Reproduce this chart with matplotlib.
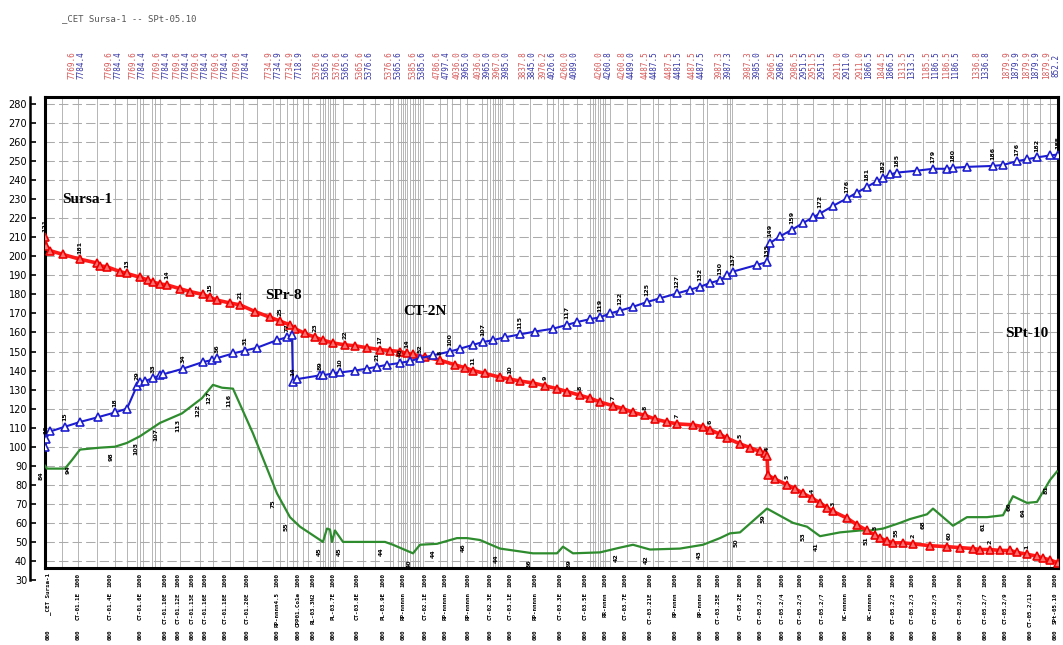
import matplotlib
matplotlib.use("Agg")
import matplotlib.pyplot as plt

# profile: distance along line [km] and values per curve
red_km = [0.0, 0.1, 0.5, 1.8, 3.5, 5.2, 5.5, 6.2, 7.5, 8.2, 9.5, 10.3, 10.8, 11.5, 12.2,
          13.5, 14.5, 15.8, 16.5, 17.2, 18.5, 19.5, 21.0, 22.5, 23.5, 24.5, 25.0, 26.0,
          27.0, 27.8, 28.8, 30.0, 31.0, 32.2, 33.5, 34.5, 35.5, 36.2, 36.8, 38.0, 39.5,
          41.0, 42.0, 42.8, 44.0, 45.5, 46.5, 47.5, 48.8, 50.0, 51.2, 52.2, 53.5, 54.5,
          55.5, 56.8, 57.8, 58.8, 60.0, 61.0, 62.2, 63.2, 64.8, 65.8, 66.5, 67.5, 68.2,
          69.5, 70.5, 71.5, 72.0, 72.2, 72.3, 73.0, 74.2, 75.0, 75.8, 76.7, 77.5, 78.2,
          78.8, 80.2, 81.2, 82.2, 83.0, 83.5, 84.2, 84.8, 85.8, 86.8, 88.5, 90.2, 91.5,
          92.8, 93.5, 94.5, 95.5, 96.5, 97.2, 98.2, 99.2, 99.8, 100.5, 101.3]
red_val = [210, 205.5, 203, 201, 198.5, 196.5, 195, 194.5, 192, 191, 189, 187.5, 186.5,
           185.5, 185, 183, 181.5, 180, 178.5, 177, 175.5, 174.5, 171, 168, 166, 164, 162,
           159.5, 157.5, 156, 154.5, 153.5, 153, 152, 151, 150.5, 150, 149, 148.5, 147,
           145.5, 143, 141.5, 140, 138.5, 136.5, 135.5, 134.5, 133.5, 132, 130.5, 129, 127,
           125.5, 123.5, 121.5, 120, 118, 116.5, 114.5, 113, 112, 111.5, 110.5, 109, 106.5,
           104.5, 101.5, 99.5, 97.5, 96.5, 95, 85, 83, 80, 78, 75.5, 73, 70.5, 68, 66,
           62.5, 59, 56, 53.5, 52, 50.5, 49.5, 49.5, 49, 48, 47.5, 47, 46.5, 46, 46, 45.5,
           45.5, 44.5, 43.5, 42.5, 41.5, 40.5, 39]

blue_km = [0.0, 0.1, 0.5, 2.0, 3.5, 5.3, 7.0, 8.2, 9.2, 9.5, 10.0, 10.8, 11.5, 11.8, 13.8,
           15.8, 16.7, 17.2, 18.8, 20.0, 21.2, 23.2, 24.2, 24.7, 24.8, 25.2, 27.5, 27.8,
           28.8, 29.5, 31.0, 32.2, 33.2, 34.2, 35.5, 36.5, 37.5, 38.8, 40.5, 41.5, 42.8,
           43.8, 44.8, 46.0, 47.5, 49.0, 50.8, 52.2, 53.2, 54.5, 55.5, 56.5, 57.5, 58.8,
           60.2, 61.5, 63.2, 64.5, 65.5, 66.5, 67.5, 68.2, 68.8, 71.2, 72.2, 72.5, 73.5,
           74.7, 75.8, 76.8, 77.5, 78.8, 80.2, 81.2, 82.2, 83.2, 83.8, 84.5, 85.2, 87.2,
           88.8, 90.2, 90.8, 92.2, 94.8, 95.8, 97.2, 98.2, 99.2, 100.5, 101.3]
blue_val = [100, 104, 108, 110.5, 113, 115.5, 118, 120, 132, 134, 134.5, 136, 137.5, 138,
            141, 144.5, 145.5, 146.5, 149, 150.5, 152, 156, 157.5, 158.5, 134, 135.5, 137.5,
            137.5, 138.5, 139, 140, 141, 142, 143, 144, 145, 146.5, 148, 150, 151.5, 153.5,
            155, 156, 157.5, 159, 160.5, 162, 164, 165.5, 167, 168, 170, 171.5, 173.5, 176,
            178, 180.5, 182.5, 184, 186, 187.5, 190, 192, 195.5, 197, 207, 210.5, 214, 217.5,
            220.5, 222.5, 226.5, 230.5, 233.5, 236.5, 239.5, 241, 243, 244, 245, 246, 246,
            246.5, 247, 247.5, 248, 250, 251, 252, 253, 253.5]

green_km = [0.0, 0.2, 2.0, 2.7, 3.5, 5.5, 7.0, 8.2, 9.5, 11.5, 13.7, 15.7, 16.8, 17.7, 18.8,
            20.8, 23.2, 24.5, 25.5, 27.8, 28.2, 28.5, 28.7, 29.0, 29.8, 32.2, 34.0, 34.8,
            36.8, 37.5, 39.2, 41.2, 42.2, 43.5, 45.5, 47.5, 48.8, 51.2, 51.8, 52.8, 55.5,
            57.5, 58.8, 60.5, 63.5, 65.8, 67.5, 68.5, 69.5, 72.2, 74.8, 76.2, 77.5, 79.5,
            81.5, 82.5, 83.8, 85.5, 86.5, 88.2, 88.8, 90.8, 92.2, 94.2, 95.8, 96.8, 98.2,
            99.2, 100.5, 101.2]
green_val = [90, 88.5, 88.5, 93, 98.5, 99.5, 100, 102, 105.5, 112.5, 117.5, 125.5, 132.5,
             131, 130.5, 107, 75.5, 63, 58, 50, 57, 56.5, 50, 56, 50, 50, 50, 48.5, 44, 48.5,
             49, 52, 52, 51, 46.5, 45, 44, 44, 47.5, 44, 44.5, 47, 48.5, 46, 46.5, 48.5, 52,
             54.5, 55, 67.5, 60, 58, 53, 55, 56, 56, 57, 60, 62, 64.5, 67.5, 58.5, 63, 63, 64,
             74, 70.5, 71, 82.5, 87]

# small point labels: (point index, text)
red_labels = [(0, "121"), (4, "181"), (9, "13"), (14, "14"), (18, "15"), (21, "21"),
              (24, "25"), (28, "23"), (31, "22"), (34, "17"), (37, "14"), (40, "8"),
              (43, "11"), (46, "10"), (49, "9"), (52, "8"), (55, "7"), (58, "8"), (61, "7"),
              (64, "6"), (67, "5"), (71, "4"), (74, "5"), (77, "4"), (80, "3"), (84, "3"),
              (89, "2"), (95, "2"), (99, "1")]
blue_labels = [(1, "10"), (3, "15"), (6, "18"), (8, "29"), (11, "33"), (14, "34"),
               (17, "36"), (19, "31"), (22, "77"), (24, "14"), (26, "89"), (29, "10"),
               (32, "21"), (34, "46"), (36, "52"), (38, "100"), (41, "107"), (44, "115"),
               (47, "117"), (50, "119"), (52, "122"), (54, "125"), (56, "127"), (58, "132"),
               (60, "130"), (62, "137"), (64, "135"), (65, "149"), (67, "159"), (70, "172"),
               (72, "176"), (74, "181"), (76, "182"), (78, "185"), (80, "179"), (82, "180"),
               (84, "186"), (86, "176"), (88, "182"), (90, "185")]
green_labels = [(0, "84"), (3, "94"), (6, "98"), (8, "103"), (9, "107"), (10, "113"),
                (11, "122"), (12, "127"), (14, "116"), (16, "75"), (17, "55"), (19, "45"),
                (24, "45"), (26, "44"), (28, "40"), (30, "44"), (32, "46"), (34, "44"),
                (36, "36"), (39, "39"), (41, "42"), (43, "42"), (45, "43"), (48, "50"),
                (49, "59"), (51, "53"), (52, "41"), (55, "51"), (57, "55"), (59, "68"),
                (61, "60"), (63, "61"), (65, "66"), (66, "64"), (68, "81")]

# station positions along profile [km] and their names
station_km = [0.3, 3.3, 6.5, 9.5, 12.0, 13.3, 14.7, 16.0, 18.0, 20.2, 23.2, 25.3, 26.8,
              28.8, 31.2, 33.8, 35.8, 38.0, 40.0, 42.3, 44.5, 46.5, 49.0, 51.5, 54.0, 56.0,
              58.0, 60.5, 63.0, 65.5, 67.3, 69.5, 71.5, 73.7, 75.5, 77.7, 80.0, 82.5, 84.8,
              86.7, 89.0, 91.5, 94.0, 96.0, 98.5, 101.0]
station_names = ["_CET Sursa-1", "CT-01.1E", "CT-01.4E", "CT-01.6E", "CT-01.10E", "CT-01.12E",
                 "CT-01.13E", "CT-01.16E", "CT-01.18E", "CT-01.20E", "RP-nnnn4.5",
                 "CPP01.Co1e", "RL-03.3N2", "PL-03.7E", "CT-03.8E", "PL-03.9E",
                 "RP-nnnnn", "CT-02.1E", "RP-nnnnn", "RP-nnnnn", "CT-02.3E", "CT-03.1E",
                 "RP-nnnnn", "CT-03.3E", "CT-03.5E", "RR-nnnn", "CT-03.7E", "CT-03.21E",
                 "RP-nnnn", "RP-nnnn", "CT-03.25E", "CT-05.2E", "CT-05.2/3", "CT-05.2/4",
                 "CT-05.2/5", "CT-05.2/7", "NC-nnnnn", "RC-nnnnn", "CT-05.2/2", "CT-05.2/3",
                 "CT-05.2/5", "CT-05.2/6", "CT-05.2/7", "CT-05.2/9", "CT-05.2/11", "SPt-05.10"]
station_top = [""] + ["1000"] * 45
station_bot = ["000"] * 46

# top header values (red / blue pair per column)
header_km = [2.7, 6.4, 8.8, 11.2, 13.2, 15.1, 17.1, 19.2, 22.4, 24.5, 27.2, 29.2, 31.5, 34.4,
             36.8, 39.2, 41.2, 43.3, 45.2, 47.8, 49.8, 52.0, 55.4, 57.7, 60.0, 62.4, 64.7,
             67.4, 70.3, 72.7, 75.0, 76.8, 79.3, 81.5, 83.7, 85.8, 88.2, 90.2, 93.2, 96.2,
             98.2, 100.2]
header_red = ["7769.6", "7769.6", "7769.6", "7769.6", "7769.6", "7769.6", "7769.6", "7769.6",
              "7734.9", "7734.9", "5376.6", "5376.6", "5365.6", "5376.6", "5385.6", "4786.6",
              "4036.0", "4036.0", "3967.0", "3837.8", "3976.2", "4260.0", "4260.0", "4260.8",
              "4487.5", "4487.5", "4487.5", "3987.3", "3987.3", "2966.5", "2986.5", "2951.5",
              "2911.0", "2911.0", "1844.5", "1313.5", "1185.5", "1186.5", "1336.8", "1879.9",
              "1879.9", "1879.9"]
header_blue = ["7784.4", "7784.4", "7784.4", "7784.4", "7784.4", "7784.4", "7784.4", "7784.4",
               "7734.9", "7718.9", "5365.6", "5365.6", "5376.6", "5365.6", "5385.6", "4797.4",
               "3965.0", "3965.0", "3985.0", "3845.0", "4026.6", "4089.0", "4260.8", "4489.0",
               "4487.5", "4481.5", "4487.5", "3987.3", "3985.0", "2986.5", "2951.5", "2951.5",
               "2911.0", "1866.5", "1866.5", "1313.5", "1186.5", "1186.5", "1336.8", "1879.9",
               "1879.9", "852.2"]

# vertical grid lines (survey points) [km]
vgrid_km = [1.7, 3.3, 5.2, 7.0, 8.2, 9.2, 9.5, 9.8, 10.7, 11.0, 11.5, 13.5, 15.5, 16.8, 18.5,
            19.8, 21.2, 22.8, 23.5, 24.2, 24.8, 25.2, 25.8, 26.3, 27.5, 27.8, 28.0, 28.3,
            28.5, 28.8, 29.0, 29.8, 31.8, 33.0, 34.5, 34.8, 35.3, 35.6, 35.8, 36.0, 36.2,
            36.5, 36.8, 37.0, 37.3, 37.5, 37.8, 39.5, 40.2, 40.7, 41.5, 42.2, 43.7, 44.2,
            44.5, 44.8, 45.0, 45.3, 45.5, 45.7, 46.8, 48.5, 50.2, 50.8, 51.3, 51.8, 53.2,
            54.5, 54.8, 55.0, 55.3, 55.5, 55.8, 56.0, 56.5, 58.2, 59.5, 60.8, 61.3, 62.5,
            64.5, 65.8, 66.2, 68.2, 68.5, 68.7, 72.2, 73.7, 75.2, 76.8, 78.8, 80.2, 81.5,
            83.7, 84.0, 84.5, 86.0, 87.8, 89.2, 89.7, 90.8, 91.5, 93.2, 94.8, 96.3, 97.8,
            98.2, 99.5, 100.5]

fig = plt.figure(figsize=(10.63, 6.45), dpi=100)
fig.text(0.058, 0.978, "_CET Sursa-1 -- SPt-05.10", family="DejaVu Sans Mono",
         fontsize=6.5, color="#555555", va="top")

ax = fig.add_axes([0.0423, 0.1194, 0.953, 0.7302])
ax.set_xlim(0, 101.3)
ax.set_ylim(36.3, 283.7)
ax.set_xticks([])
ax.set_yticks([])
for sp in ax.spines.values():
    sp.set_linewidth(2.2)

for xk in vgrid_km:
    ax.axvline(xk, color="#b5b5b5", lw=0.7, zorder=0)
for v in range(40, 290, 10):
    ax.axhline(v, color="#ababab", lw=0.75, ls=(0, (9, 4)), zorder=0)

ax.plot(green_km, green_val, color="#2e8b2e", lw=1.6, zorder=3)
ax.plot(red_km, red_val, color="#ff1a1a", lw=2.6, marker="^", ms=6,
        mfc="#ff7070", mec="#ee0000", mew=1.2, zorder=4)
ax.plot(blue_km, blue_val, color="#1c1cd0", lw=1.5, marker="^", ms=6,
        mfc="white", mec="#1c1cd0", mew=1.2, zorder=5)

lbl = dict(rotation=90, fontsize=4.5, fontweight="bold", ha="center",
           textcoords="offset points", zorder=6)
for i, s in red_labels:
    ax.annotate(s, (red_km[i], red_val[i]), xytext=(0, 4), va="bottom", **lbl)
for i, s in blue_labels:
    ax.annotate(s, (blue_km[i], blue_val[i]), xytext=(0, 4), va="bottom", **lbl)
for i, s in green_labels:
    ax.annotate(s, (green_km[i], green_val[i]), xytext=(-3, -4), va="top", **lbl)

serif = dict(family="Liberation Serif", fontweight="bold", fontsize=11, va="center")
ax.text(1.7, 229.6, "Sursa-1", **serif)
ax.text(22.0, 179.2, "SPr-8", **serif)
ax.text(35.8, 170.8, "CT-2N", **serif)
ax.text(96.0, 159.7, "SPt-10", **serif)

# header values above the frame
tx = ax.get_xaxis_transform()
hdr = dict(rotation=90, fontsize=5.5, family="DejaVu Sans Mono", ha="center",
           va="center", transform=tx, clip_on=False)
for xk, r, b in zip(header_km, header_red, header_blue):
    ax.text(xk, 1.068, r, color="#d85858", **hdr)
    ax.text(xk + 0.9, 1.068, b, color="#3434a8", **hdr)

# station labels below the frame
stn = dict(rotation=90, fontsize=4.2, family="DejaVu Sans Mono", fontweight="bold",
           ha="center", va="top", transform=tx, clip_on=False)
for k, (xk, t, n, b) in enumerate(zip(station_km, station_top, station_names, station_bot)):
    ax.text(xk, -0.01, t, **stn)
    ax.text(xk, -0.01 if k == 0 else -0.052, n, **stn)
    ax.text(xk, -0.13, b, **stn)

# separate value axis on the left
ay = fig.add_axes([0.0282, 0.1008, 0.0001, 0.7488])
ay.set_ylim(30, 283.7)
ay.set_xticks([])
ay.set_yticks(range(30, 290, 10))
for side in ("top", "right", "bottom"):
    ay.spines[side].set_visible(False)
ay.spines["left"].set_linewidth(1.8)
ay.tick_params(axis="y", direction="in", length=4, width=1.2, labelsize=7, pad=2)

fig.savefig("out.png", dpi=100)
